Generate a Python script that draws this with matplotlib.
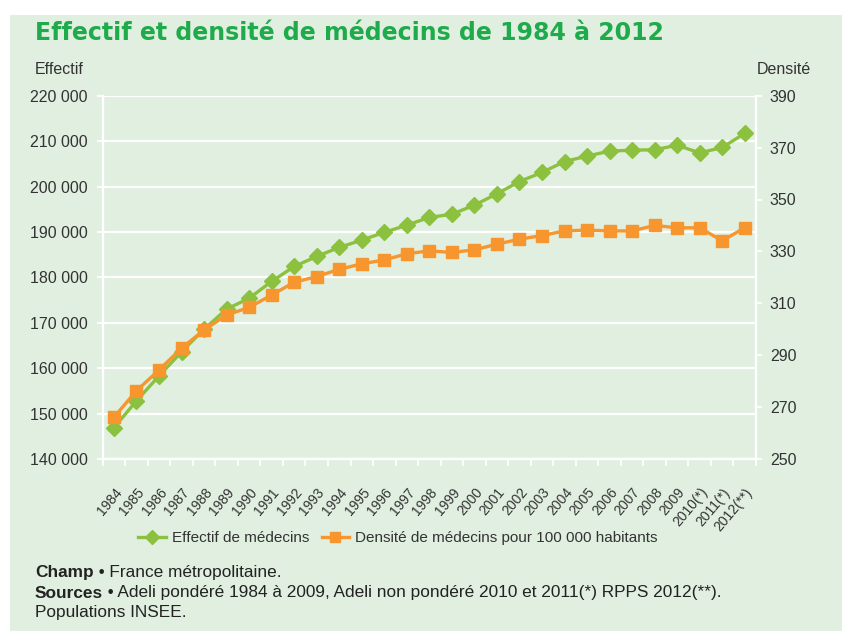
import numpy as np
import matplotlib
matplotlib.use("Agg")
import matplotlib.pyplot as plt
from matplotlib.patches import Rectangle
from matplotlib.lines import Line2D

# Données
annees = ["1984", "1985", "1986", "1987", "1988", "1989", "1990", "1991", "1992",
          "1993", "1994", "1995", "1996", "1997", "1998", "1999", "2000", "2001",
          "2002", "2003", "2004", "2005", "2006", "2007", "2008", "2009",
          "2010(*)", "2011(*)", "2012(**)"]
effectif = [146900, 152800, 158300, 163600, 168600, 173000, 175400, 179100, 182400,
            184600, 186600, 188200, 189900, 191500, 193200, 193900, 195900, 198400,
            201100, 203100, 205500, 206700, 207800, 208000, 208100, 209100,
            207400, 208600, 211700]
densite = [266.1, 276.3, 284.3, 292.7, 299.7, 305.5, 308.4, 313.2, 318.1,
           320.3, 323.1, 325.2, 326.7, 329.1, 330.2, 329.6, 330.6, 332.8,
           334.7, 336.1, 337.9, 338.2, 337.9, 337.9, 340.0, 339.1,
           339.1, 334.1, 339.1]
ticks_gauche = [140000, 150000, 160000, 170000, 180000, 190000, 200000, 210000, 220000]
ticks_droite = [250, 270, 290, 310, 330, 350, 370, 390]

VERT = "#8CC13F"
ORANGE = "#F7962E"
FOND = "#E0EFDF"
TXT = "#333333"
FS = 11.5

plt.rcParams["font.family"] = ["Liberation Sans", "DejaVu Sans"]

fig = plt.figure(figsize=(8.42, 6.31), dpi=100)
fig.patches.append(Rectangle((10 / 842, 0), 1, 1 - 15 / 631, transform=fig.transFigure,
                             facecolor=FOND, edgecolor="none", zorder=-10))

ax = fig.add_axes([102.7 / 842, 1 - 459 / 631, 653.3 / 842, 363.3 / 631])
ax.patch.set_visible(False)
x = np.arange(len(annees))

ax.plot(x, effectif, color=VERT, lw=2.4, marker="D", ms=8.5, zorder=3)
ax.set_ylim(140000, 220000)
ax.set_xlim(-0.5, len(annees) - 0.5)
ax.set_yticks(ticks_gauche)
ax.set_yticklabels([f"{v:,}".replace(",", " ") for v in ticks_gauche])
ax.yaxis.grid(True, color="white", lw=1.6)
ax.set_axisbelow(True)

ax2 = ax.twinx()
ax2.plot(x, densite, color=ORANGE, lw=2.4, marker="s", ms=8, zorder=3)
ax2.set_ylim(250, 390)
ax2.set_yticks(ticks_droite)

for a in (ax, ax2):
    for s in a.spines.values():
        s.set_color("white")
        s.set_linewidth(1.6)
    a.spines["top"].set_visible(False)
    a.tick_params(axis="y", colors="white", labelcolor=TXT, labelsize=FS, length=4, width=1.3, pad=7)
ax2.tick_params(axis="y", pad=6)

ax.set_xticks(x)
ax.set_xticklabels(annees, rotation=50, ha="right", va="top", rotation_mode="anchor",
                   fontsize=10, color=TXT)
ax.set_xticks(np.arange(-0.5, len(annees)), minor=True)
ax.tick_params(axis="x", which="major", length=0, pad=19)
ax.tick_params(axis="x", which="minor", colors="white", length=5, width=1.3)
ax2.tick_params(axis="x", length=0)

fig.text(35 / 842, 1 - 33 / 631, "Effectif et densité de médecins de 1984 à 2012",
         family="DejaVu Sans", weight="bold", fontsize=17, color="#1FAA4B", va="center")
fig.text(35 / 842, 1 - 70 / 631, "Effectif", fontsize=FS, color=TXT, va="center")
fig.text(757 / 842, 1 - 70 / 631, "Densité", fontsize=FS, color=TXT, va="center")

handles = [Line2D([], [], color=VERT, lw=2.4, marker="D", ms=7),
           Line2D([], [], color=ORANGE, lw=2.4, marker="s", ms=7)]
fig.legend(handles, ["Effectif de médecins", "Densité de médecins pour 100 000 habitants"],
           loc="center", bbox_to_anchor=(398 / 842, 1 - 538 / 631), ncol=2, frameon=False,
           fontsize=11, handlelength=1.8, columnspacing=0.8, handletextpad=0.4,
           labelcolor=TXT)

# Notes en bas
FN = 12.4
lignes = [("Champ", " • France métropolitaine.", 572),
          ("Sources", " • Adeli pondéré 1984 à 2009, Adeli non pondéré 2010 et 2011(*) RPPS 2012(**).", 593)]
for gras, reste, yy in lignes:
    t = fig.text(35 / 842, 1 - yy / 631, gras, weight="bold", fontsize=FN, color="#222222", va="center")
    ax.annotate(reste, xy=(1, 0), xycoords=t, va="bottom", ha="left", fontsize=FN, color="#222222",
                annotation_clip=False)
fig.text(35 / 842, 1 - 613 / 631, "Populations INSEE.", fontsize=FN, color="#222222", va="center")

fig.savefig("out.png", dpi=100)
